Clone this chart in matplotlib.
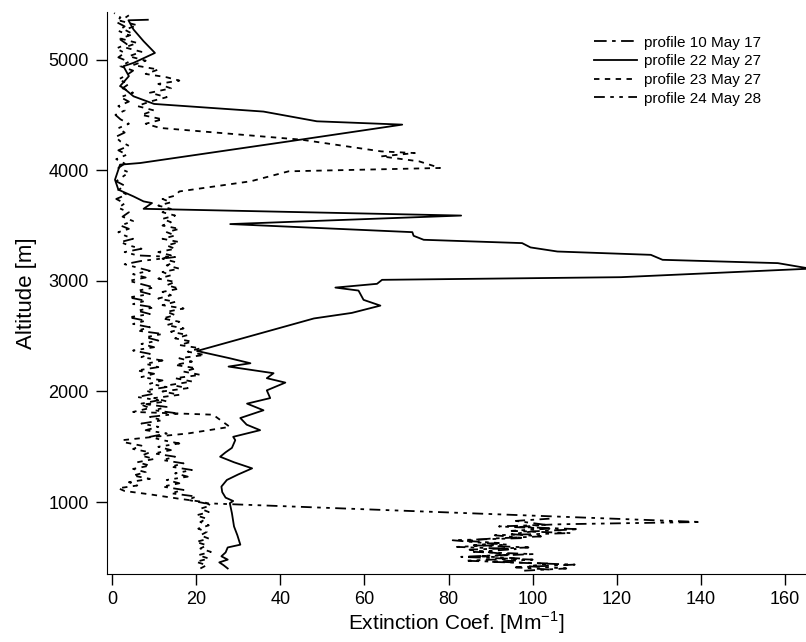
import numpy as np
import matplotlib
matplotlib.use('Agg')
import matplotlib.pyplot as plt

plt.rcParams['font.family'] = ['Liberation Sans', 'DejaVu Sans']

# profile 10 May 17 (long dash, short dash) - low level layer only
alt_p10 = [390, 410, 435, 460, 480, 505, 525, 545, 570, 590, 610, 630, 650, 670,
           690, 710, 735, 755, 775, 795, 830, 850]
ext_p10 = [104, 96, 110, 90, 100, 83, 95, 90, 85, 99, 86, 92, 84, 90,
           102, 95, 100, 111, 97, 103, 96, 104]

# profile 22 May 27 (solid)
alt_p22 = [400, 430, 455, 480, 510, 545, 590, 615, 700, 780, 900, 990, 1010, 1040,
           1090, 1140, 1200, 1250, 1305, 1360, 1410, 1450, 1490, 1560, 1590, 1650,
           1700, 1760, 1830, 1890, 1940, 2010, 2080, 2120, 2165, 2225, 2255, 2300,
           2366, 2660, 2710, 2776, 2828, 2912, 2939, 2973, 3009, 3033, 3110, 3160,
           3190, 3235, 3265, 3302, 3341, 3371, 3407, 3440, 3513, 3590, 3651, 3672,
           3703, 3718, 3763, 3824, 3914, 4050, 4065, 4276, 4412, 4442, 4530, 4599,
           4668, 4744, 4760, 4850, 4940, 4970, 5060, 5166, 5272, 5355, 5360]
ext_p22 = [27.5, 26.5, 25.5, 27.5, 26.0, 27.0, 27.5, 30.5, 29.8, 29.0, 28.5, 28.0, 28.8, 27.0,
           26.2, 26.0, 27.3, 30.0, 33.3, 29.0, 25.7, 27.0, 28.5, 29.3, 28.8, 35.2,
           32.0, 30.5, 36.0, 32.1, 37.6, 36.8, 41.2, 36.8, 38.4, 27.7, 32.9, 28.0,
           20.2, 48.0, 57.0, 63.8, 59.8, 58.6, 53.1, 63.0, 64.2, 121.0, 166.0, 158.3,
           130.9, 128.1, 105.9, 99.5, 97.5, 74.1, 71.7, 71.4, 28.1, 83.0, 7.5, 8.3,
           9.5, 7.5, 5.1, 1.5, 0.7, 1.9, 6.7, 44.8, 69.0, 48.7, 36.0, 10.0,
           5.1, 2.7, 1.9, 4.0, 2.7, 5.1, 10.2, 7.5, 5.1, 3.9, 8.5]

# profile 23 May 27 (short dashes)
alt_p23 = [400, 430, 460, 490, 520, 550, 580, 610, 640, 670, 700, 730, 760, 790,
           820, 850, 880, 910, 940, 970, 1000, 1030, 1070, 1100, 1125, 1150, 1180,
           1210, 1240, 1270, 1300, 1330, 1360, 1390, 1420, 1450, 1480, 1510, 1540,
           1560, 1590, 1620, 1680, 1790, 1815, 1850, 1880, 1910, 1940, 1970, 2000,
           2030, 2060, 2090, 2120, 2150, 2180, 2210, 2240, 2270, 2300, 2330, 2360,
           2390, 2420, 2450, 2480, 2510, 2540, 2570, 2600, 2630, 2660, 2690, 2720,
           2750, 2780, 2810, 2840, 2870, 2900, 2930, 2960, 2990, 3020, 3050, 3080,
           3110, 3140, 3170, 3200, 3230, 3260, 3290, 3320, 3350, 3380, 3410, 3440,
           3470, 3500, 3530, 3560, 3590, 3620, 3650, 3680, 3710, 3740, 3770, 3808,
           3900, 3990, 4020, 4080, 4125, 4155, 4170, 4276, 4382, 4420, 4460, 4500,
           4540, 4580, 4620, 4660, 4700, 4740, 4780, 4810, 4840, 4870, 4910, 4950,
           4990, 5030, 5070, 5110, 5150, 5190, 5230, 5270, 5310, 5350, 5400]
ext_p23 = [21, 22.5, 20, 23, 20.5, 23.5, 21, 22.5, 20, 23, 21, 22.5, 20.5, 23,
           21, 22.5, 20, 23, 21, 23.5, 22, 16, 9, 3, 1.5, 6, 4,
           9, 5, 8, 5, 9, 6, 10, 7, 9, 5, 7, 3,
           2.5, 10, 18, 28, 24, 5, 9, 7, 13, 10, 16, 12,
           18, 14, 19, 15, 21, 17, 20, 15, 19, 16, 22, 18,
           21, 16, 19, 15, 18, 14, 17, 13, 16, 12, 15, 13,
           17, 12, 15, 11, 14, 12, 16, 13, 15, 11, 14, 12,
           16, 13, 15, 12, 14, 11, 15, 13, 16, 12, 15, 13,
           16, 12, 14, 12, 15, 12, 14, 11, 14, 12, 15, 16,
           33, 42, 78, 73, 64, 72, 64, 45, 11.4, 8, 12, 7,
           10, 6, 9, 13, 9, 14, 11, 16, 13, 8, 11, 5,
           8, 4, 7, 3, 6, 2, 5, 3, 6, 2, 4]

# profile 24 May 28 (dash, dot, dot)
alt_p24 = [380, 400, 420, 445, 470, 490, 510, 530, 550, 575, 595, 615, 635, 655,
           675, 700, 720, 740, 760, 780, 800, 820, 990, 1020, 1050, 1080, 1110,
           1140, 1170, 1200, 1230, 1260, 1290, 1320, 1350, 1380, 1410, 1440, 1470,
           1500, 1530, 1560, 1590, 1620, 1650, 1680, 1710, 1740, 1770, 1800, 1830,
           1860, 1890, 1920, 1950, 1980, 2010, 2040, 2070, 2100, 2130, 2160, 2190,
           2220, 2250, 2280, 2310, 2340, 2370, 2400, 2430, 2460, 2490, 2520, 2550,
           2580, 2610, 2640, 2670, 2700, 2730, 2760, 2790, 2820, 2850, 2880, 2910,
           2940, 2970, 3000, 3030, 3060, 3090, 3120, 3150, 3180, 3215, 3230, 3260,
           3290, 3320, 3350, 3380, 3410, 3440, 3470, 3500, 3540, 3580, 3620, 3660,
           3700, 3740, 3780, 3820, 3860, 3900, 3940, 3980, 4020, 4060, 4100, 4140,
           4180, 4220, 4260, 4300, 4340, 4380, 4420, 4460, 4500, 4540, 4580, 4620,
           4660, 4700, 4740, 4780, 4820, 4860, 4900, 4940, 4980, 5020, 5060, 5100,
           5140, 5180, 5220, 5260, 5300, 5340, 5380, 5420]
ext_p24 = [98, 108, 99, 104, 84, 97, 88, 100, 86, 96, 82, 94, 87, 81,
           98, 91, 109, 95, 104, 92, 107, 140, 22, 18, 20, 14, 17,
           12, 16, 13, 18, 15, 19, 14, 17, 12, 15, 10, 14,
           11, 16, 12, 9, 13, 8, 11, 7, 12, 9, 16, 10,
           13, 7, 11, 6, 10, 8, 13, 9, 12, 7, 10, 6,
           11, 8, 12, 7, 9, 5, 10, 7, 11, 8, 12, 6,
           9, 5, 8, 4, 9, 6, 10, 5, 8, 4, 9, 6,
           10, 7, 4, 8, 5, 9, 6, 3, 7, 15, 6, 3,
           7, 4, 2, 5, 3, 1.5, 4, 2, 5, 2.5, 4, 1.5,
           3, 1, 3.5, 1.5, 3, 1, 2.5, 4, 1.5, 3, 1, 3.5,
           1.5, 4, 2, 0.8, 3, 1.5, 4, 2, 0.8, 3, 1.5, 4,
           2, 5, 2.5, 4, 1.5, 3.5, 5, 2, 4, 1.5, 3, 1,
           3.5, 2, 4, 1.5, 3, 1, 2, 0.5]

x_ticks = [0, 20, 40, 60, 80, 100, 120, 140, 160]
y_ticks = [1000, 2000, 3000, 4000, 5000]

fig = plt.figure(figsize=(8.06, 6.42), dpi=100)
ax = fig.add_axes([107/806, 1 - 574/642, 1 - 107/806, (574 - 12)/642])

lw = 1.3
ax.plot(ext_p10, alt_p10, color='black', lw=lw, linestyle=(0, (7, 3, 2, 3)), label='profile 10 May 17')
ax.plot(ext_p22, alt_p22, color='black', lw=lw, linestyle='-', label='profile 22 May 27')
ax.plot(ext_p23, alt_p23, color='black', lw=lw, linestyle=(0, (3, 3)), label='profile 23 May 27')
ax.plot(ext_p24, alt_p24, color='black', lw=lw, linestyle=(0, (6, 3, 2, 3, 2, 3)), label='profile 24 May 28')

ax.set_xlim(-1.2, 165)
ax.set_ylim(350, 5430)
ax.set_xticks(x_ticks)
ax.set_yticks(y_ticks)
ax.spines['top'].set_visible(False)
ax.spines['right'].set_visible(False)
ax.tick_params(direction='out', length=8, width=1, labelsize=13, pad=5)
ax.tick_params(axis='x', pad=4)
ax.set_xlabel('Extinction Coef. [Mm$^{\\mathregular{-1}}$]', fontsize=15, labelpad=1)
ax.set_ylabel('Altitude [m]', fontsize=16, labelpad=8)

ax.legend(loc='upper right', frameon=False, fontsize=11, handlelength=2.8,
          handletextpad=0.5, labelspacing=0.3, borderaxespad=1.6,
          bbox_to_anchor=(0.98, 1.012))

fig.savefig('out.png', dpi=100)
